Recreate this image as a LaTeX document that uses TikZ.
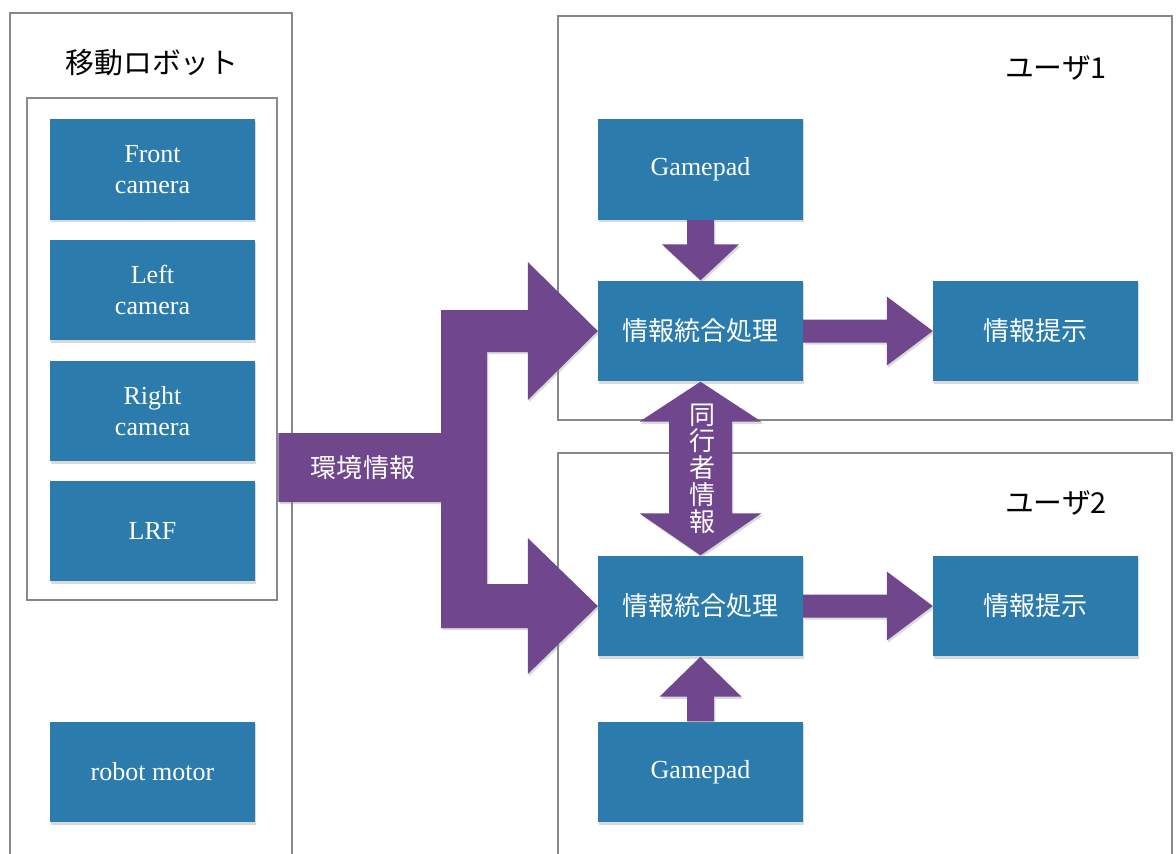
\documentclass[tikz,border=0pt]{standalone}
\usepackage{fontspec}
\setmainfont{Liberation Serif}
\newfontfamily\jpfont{Noto Sans CJK JP}
\usepackage{tikz}
\usetikzlibrary{calc, backgrounds, shadows}
\definecolor{boxblue}{RGB}{43,123,173}
\definecolor{arrowpurple}{RGB}{112,70,140}
\definecolor{framegray}{RGB}{133,137,141}
\tikzset{
  softshadow/.style = {drop shadow={shadow xshift=1pt, shadow yshift=-1.5pt, opacity=0.3}},
  block/.style  = {rectangle, fill=boxblue, text=white, minimum width=5.12cm,
                   minimum height=2.52cm, align=center, softshadow,
                   font=\fontsize{18.5}{21.5}\selectfont},
  blockJ/.style = {block, font=\jpfont\fontsize{18.5}{22}\selectfont},
  frame/.style  = {draw=framegray, line width=2pt},
  fatarrow/.style = {fill=arrowpurple, softshadow},
  title/.style  = {font=\jpfont\fontsize{20.5}{24}\selectfont, text=black},
  wlabel/.style = {font=\jpfont\fontsize{18.5}{19}\selectfont, text=white, inner sep=0pt},
}
\begin{document}
\begin{tikzpicture}[x=0.025cm, y=-0.025cm]
    \useasboundingbox (0,0) rectangle (1176,854);

    %% ===================== ROBOT =====================
    \node[title] (robotT) at (152,63) {移動ロボット};
    \node[block] (front) at (152.5,169.5) {Front\\camera};
    \node[block] (left)  at (152.5,290)   {Left\\camera};
    \node[block] (right) at (152.5,411)   {Right\\camera};
    \node[block] (lrf)   at (152.5,531)   {LRF};
    \node[block] (motor) at (152.5,772)   {robot motor};

    %% ===================== USERS =====================
    \node[title] (user1T) at (1056,68)  {ユーザ1};
    \node[title] (user2T) at (1056,503) {ユーザ2};

    \node[block]  (gp1)   at (700.5,169.5) {Gamepad};
    \node[blockJ] (int1)  at (700.5,331)   {情報統合処理};
    \node[blockJ] (prop1) at (1035.5,331)  {情報提示};
    \node[blockJ] (int2)  at (700.5,606)   {情報統合処理};
    \node[blockJ] (prop2) at (1035.5,606)  {情報提示};
    \node[block]  (gp2)   at (700.5,772)   {Gamepad};

    %% frames
    \begin{scope}[on background layer]
      \draw[frame] (10,13) rectangle (292,880);
      \node[frame, minimum width=6.25cm, minimum height=12.55cm] (sensors) at (152,349) {};
      \draw[frame] (558,16) rectangle (1172,420);
      \draw[frame] (558,453) rectangle (1172,880);
    \end{scope}

    %% environment info, split to both users
    \coordinate (bus) at (464,467);
    \fill[fatarrow]
      ($(sensors.east |- bus)+(0,-34)$) -- ($(bus)+(-23,-34)$)
      -- ($(bus |- int1.west)+(-23,-21)$) -- ($(int1.west)+(-70,-21)$)
      -- ($(int1.west)+(-70,-69)$) -- (int1.west) -- ($(int1.west)+(-70,69)$)
      -- ($(int1.west)+(-70,21)$) -- ($(bus |- int1.west)+(23,21)$)
      -- ($(bus |- int2.west)+(23,-22)$) -- ($(int2.west)+(-70,-22)$)
      -- ($(int2.west)+(-70,-68)$) -- (int2.west) -- ($(int2.west)+(-70,68)$)
      -- ($(int2.west)+(-70,22)$) -- ($(bus |- int2.west)+(-23,22)$)
      -- ($(bus)+(-23,35)$) -- ($(sensors.east |- bus)+(0,35)$) -- cycle;
    \node[wlabel] (envT) at (363,468) {環境情報};

    %% gamepads
    \fill[fatarrow] ($(gp1.south)+(-13.5,0)$) -- ($(int1.north)+(-13.5,-36)$)
      -- ($(int1.north)+(-38.5,-36)$) -- (int1.north) -- ($(int1.north)+(38.5,-36)$)
      -- ($(int1.north)+(13.5,-36)$) -- ($(gp1.south)+(13.5,0)$) -- cycle;
    \fill[fatarrow] ($(gp2.north)+(-13.5,0)$) -- ($(int2.south)+(-13.5,40)$)
      -- ($(int2.south)+(-41,40)$) -- (int2.south) -- ($(int2.south)+(41,40)$)
      -- ($(int2.south)+(13.5,40)$) -- ($(gp2.north)+(13.5,0)$) -- cycle;

    %% presentation
    \fill[fatarrow] ($(int1.east)+(0,-11.5)$) -- ($(prop1.west)+(-46,-11.5)$)
      -- ($(prop1.west)+(-46,-34.5)$) -- (prop1.west) -- ($(prop1.west)+(-46,34.5)$)
      -- ($(prop1.west)+(-46,11.5)$) -- ($(int1.east)+(0,11.5)$) -- cycle;
    \fill[fatarrow] ($(int2.east)+(0,-11.5)$) -- ($(prop2.west)+(-46,-11.5)$)
      -- ($(prop2.west)+(-46,-34.5)$) -- (prop2.west) -- ($(prop2.west)+(-46,34.5)$)
      -- ($(prop2.west)+(-46,11.5)$) -- ($(int2.east)+(0,11.5)$) -- cycle;

    %% companion info
    \fill[fatarrow] (int1.south) -- ($(int1.south)+(61,40)$) -- ($(int1.south)+(31.5,40)$)
      -- ($(int2.north)+(31.5,-42)$) -- ($(int2.north)+(61,-42)$) -- (int2.north)
      -- ($(int2.north)+(-61,-42)$) -- ($(int2.north)+(-31.5,-42)$)
      -- ($(int1.south)+(-31.5,40)$) -- ($(int1.south)+(-61,40)$) -- cycle;
    \node[wlabel, align=center] (peerT) at ($(int1.south)!0.5!(int2.north)+(1.5,0)$)
         {同\\行\\者\\情\\報};

  \end{tikzpicture}
\end{document}
